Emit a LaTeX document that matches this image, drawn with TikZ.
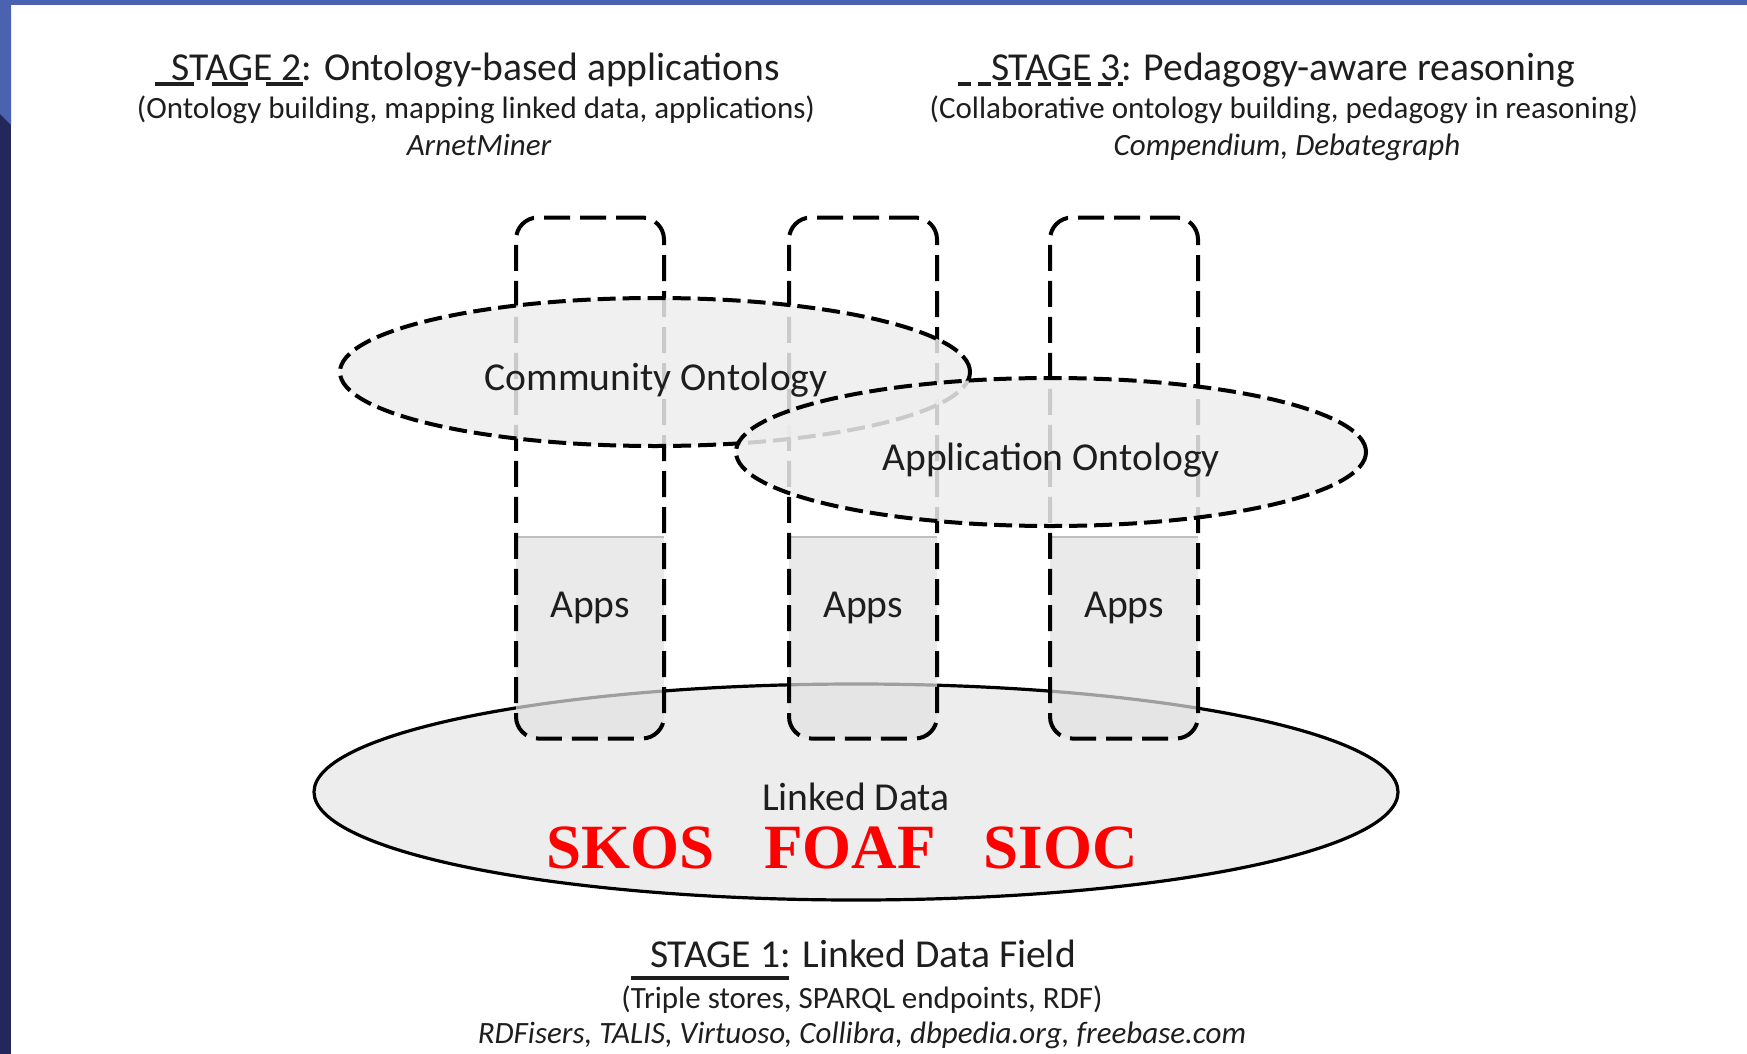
\documentclass[tikz,border=0pt]{standalone}
\usepackage{fontspec}
\setmainfont{Carlito}
\newfontfamily\redserif{Liberation Serif}
\usetikzlibrary{shapes.geometric}
\definecolor{slideblue}{HTML}{4B62B0}
\definecolor{slidenavy}{HTML}{23275A}
\definecolor{txt}{HTML}{1E1E1E}
\definecolor{ellfill}{HTML}{EEEEEE}
\definecolor{appsgrey}{HTML}{E2E2E2}
\definecolor{ldfill}{HTML}{EDEDED}
\definecolor{skosred}{HTML}{FF0000}
\begin{document}
\begin{tikzpicture}[x=1pt,y=-1pt,
  bigtext/.style={font=\fontsize{39.6}{44}\selectfont, text=txt, inner sep=0pt, anchor=base},
  subtext/.style={font=\fontsize{31}{36}\selectfont, text=txt, inner sep=0pt, anchor=base},
  subital/.style={font=\fontsize{31}{36}\selectfont\itshape, text=txt, inner sep=0pt, anchor=base},
  colbox/.style={draw=black, line width=4pt, dash pattern=on 26pt off 10pt,
    rounded corners=22pt, minimum width=148pt, minimum height=521pt,
    inner sep=0pt, outer sep=0pt,
    path picture={
      \fill[appsgrey, fill opacity=0.7, sharp corners]
        (path picture bounding box.south west) rectangle ([yshift=202pt]path picture bounding box.south east);
      \draw[black!25, line width=2pt, solid, sharp corners]
        ([yshift=202pt]path picture bounding box.south west) -- ([yshift=202pt]path picture bounding box.south east);
    }},
  ontoell/.style={ellipse, draw=black, line width=4pt, dash pattern=on 18pt off 7pt,
    fill=ellfill, fill opacity=0.85, draw opacity=1, inner sep=0pt, outer sep=0pt,
    minimum width=630pt, minimum height=148pt},
  ldell/.style={ellipse, draw=black, line width=3.2pt, fill=ldfill, inner sep=0pt, outer sep=0pt,
    minimum width=1084pt, minimum height=216pt},
  ulseg/.style={line width=3.5pt, draw=txt}
]
\useasboundingbox (0,0) rectangle (1747,1054);
% slide background
\fill[white] (0,0) rectangle (1747,1054);
\fill[slidenavy] (0,0) rectangle (11,1054);
\fill[slideblue] (0,0) -- (11,0) -- (11,125) -- (0,114) -- cycle;
\fill[slideblue] (0,0) rectangle (1747,5);

% Linked Data ellipse
\node[ldell] (ld) at (856,792) {};

% columns
\node[colbox] (c1) at (590,478) {};
\node[colbox] (c2) at (863,478) {};
\node[colbox] (c3) at (1124,478) {};

% ontology ellipses
\node[ontoell] (comm) at (655,372) {};
\node[ontoell] (appo) at (1051,452) {};

% labels inside
\node[bigtext] (commlbl) at (656,390) {Community Ontology};
\node[bigtext] (applbl) at (1051,470) {Application Ontology};
\node[bigtext] (apps1) at (590,617) {Apps};
\node[bigtext] (apps2) at (863,617) {Apps};
\node[bigtext] (apps3) at (1124,617) {Apps};
\node[bigtext] (ldlbl) at (856,810) {Linked Data};
\node[anchor=base, inner sep=0pt, text=skosred, font=\redserif\bfseries\fontsize{63}{70}\selectfont] (vocab) at (842,868) {SKOS\hspace{50pt}FOAF\hspace{48pt}SIOC};

% STAGE 2
\node[bigtext] (t2) at (476,81) {STAGE 2: Ontology-based applications};
\node[subtext] (s2) at (476,119) {(Ontology building, mapping linked data, applications)};
\node[subital] (e2) at (479,155) {ArnetMiner};
\coordinate (u2a) at (155,84); \coordinate (u2b) at (194,84);
\coordinate (u2c) at (212,84); \coordinate (u2d) at (248,84);
\coordinate (u2e) at (266,84); \coordinate (u2f) at (303,84);
\draw[ulseg] (u2a) -- (u2b);
\draw[ulseg] (u2c) -- (u2d);
\draw[ulseg] (u2e) -- (u2f);

% STAGE 3
\node[bigtext] (t3) at (1283,81) {STAGE 3: Pedagogy-aware reasoning};
\node[subtext] (s3) at (1284,119) {(Collaborative ontology building, pedagogy in reasoning)};
\node[subital] (e3) at (1287,155) {Compendium, Debategraph};
\coordinate (u3a) at (958,84); \coordinate (u3b) at (1123,84);
\draw[ulseg, dash pattern=on 13pt off 7pt] (u3a) -- (u3b);

% STAGE 1
\node[bigtext] (t1) at (863,967) {STAGE 1: Linked Data Field};
\node[subtext] (s1) at (862,1008) {(Triple stores, SPARQL endpoints, RDF)};
\node[subital] (e1) at (862,1043) {RDFisers, TALIS, Virtuoso, Collibra, dbpedia.org, freebase.com};
\coordinate (u1a) at (631,978); \coordinate (u1b) at (789,978);
\draw[ulseg] (u1a) -- (u1b);
\end{tikzpicture}
\end{document}
